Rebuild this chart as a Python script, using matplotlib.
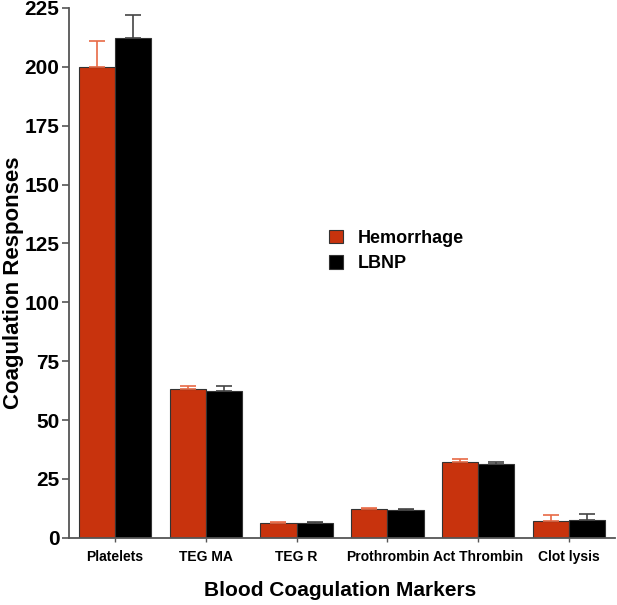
import numpy as np
import matplotlib
matplotlib.use('Agg')
import matplotlib.pyplot as plt

plt.rcParams['font.family'] = ['Liberation Sans', 'DejaVu Sans']
plt.rcParams['font.weight'] = 'bold'

# data
markers = ['Platelets', 'TEG MA', 'TEG R', 'Prothrombin', 'Act Thrombin', 'Clot lysis']
hemorrhage = [200, 63.2, 6.1, 12.3, 32.4, 7.3]
hemorrhage_err = [11, 1.2, 0.6, 0.2, 1.1, 2.6]
lbnp = [212, 62.5, 6.1, 11.9, 31.2, 7.7]
lbnp_err = [10, 2.0, 0.8, 0.2, 0.8, 2.6]
y_ticks = [0, 25, 50, 75, 100, 125, 150, 175, 200, 225]

red = '#C8330D'
x = np.arange(len(markers))
w = 0.4

fig = plt.figure(figsize=(6.17, 6.05), dpi=100)
ax = fig.add_axes([0.112, 0.111, 0.885, 0.876])

ax.bar(x - w / 2, hemorrhage, w, color=red, edgecolor='#333333', linewidth=0.8,
       yerr=[np.zeros(len(markers)), hemorrhage_err], ecolor='#E86A45',
       error_kw=dict(elinewidth=1.2, capsize=6, capthick=1.2), label='Hemorrhage', zorder=2)
ax.bar(x + w / 2, lbnp, w, color='black', edgecolor='#333333', linewidth=0.8,
       yerr=[np.zeros(len(markers)), lbnp_err], ecolor='#444444',
       error_kw=dict(elinewidth=1.2, capsize=6, capthick=1.2), label='LBNP', zorder=2)

ax.set_xlim(-0.507, 5.51)
ax.set_ylim(0, 225)
ax.set_yticks(y_ticks)
ax.set_yticklabels([str(t) for t in y_ticks], fontsize=15, fontweight='bold')
ax.set_xticks(x)
ax.set_xticklabels(markers, fontsize=10, fontweight='bold')
ax.tick_params(axis='x', length=3, width=1, color='#555555', pad=6)
ax.tick_params(axis='y', length=5, width=1.2, color='#555555', pad=2)

for s in ['top', 'right']:
    ax.spines[s].set_visible(False)
for s in ['left', 'bottom']:
    ax.spines[s].set_color('#555555')
    ax.spines[s].set_linewidth(1.3)

# axis titles placed in figure coords so they stay inside the canvas
fig.text(14 / 617, 1 - 283 / 605, 'Coagulation Responses', rotation=90,
         ha='center', va='center', fontsize=16, fontweight='bold')
fig.text(340 / 617, 1 - 590 / 605, 'Blood Coagulation Markers',
         ha='center', va='center', fontsize=15, fontweight='bold')

ax.legend(loc='center left', bbox_to_anchor=(0.447, 0.541), frameon=False,
          prop={'size': 13, 'weight': 'bold'}, handlelength=0.75, handleheight=0.75,
          handletextpad=0.8, labelspacing=0.45)

fig.savefig('out.png', dpi=100)
